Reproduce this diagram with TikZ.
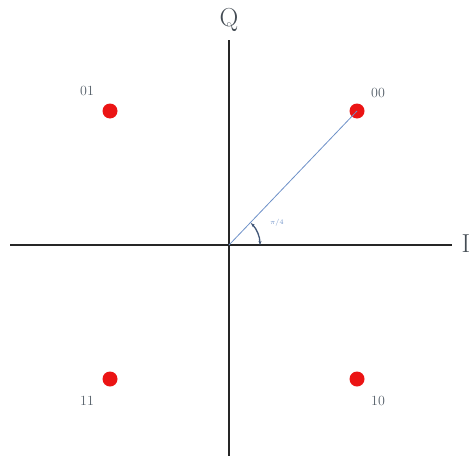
\documentclass[tikz,border=0pt]{standalone}
\usetikzlibrary{arrows.meta}
\definecolor{lbl}{RGB}{85,95,105}
\definecolor{vec}{RGB}{110,145,200}
\definecolor{dotred}{RGB}{235,20,20}
\tikzset{
  axis/.style={line width=2.6pt, black!85},
  pt/.style={circle, fill=dotred, inner sep=0pt, minimum size=15pt},
  bits/.style={text=lbl, font=\fontsize{14}{16}\selectfont, inner sep=0pt},
  axlbl/.style={text=lbl!80!black, font=\fontsize{26}{28}\selectfont, inner sep=0pt}
}
\begin{document}
\begin{tikzpicture}[x=1pt,y=-1pt]
\useasboundingbox (0,0) rectangle (476,463);
\coordinate (O) at (229,245);
\coordinate (L) at (10,245);
\coordinate (R) at (452,245);
\coordinate (T) at (229,40);
\coordinate (B) at (229,456);
\draw[axis] (L) -- (R);
\draw[axis] (T) -- (B);
\node[axlbl] (Q) at (229,20) {Q};
\node[axlbl] (I) at (466,244) {I};
\node[pt] (p00) at (357,111) {};
\node[pt] (p01) at (110,111) {};
\node[pt] (p11) at (110,379) {};
\node[pt] (p10) at (357,379) {};
\node[bits] (l01) at (87,91) {01};
\node[bits] (l00) at (378,93) {00};
\node[bits] (l11) at (87,401) {11};
\node[bits] (l10) at (378,401) {10};
\draw[vec, line width=0.8pt] (O) -- (p00.center);
\draw[vec!60!black, line width=1.3pt, {Stealth[length=4pt]}-{Stealth[length=4pt]}] ([shift={(-45:31)}]O) arc[start angle=-45, end angle=0, radius=31];
\node[text=vec, font=\fontsize{7}{8}\selectfont, inner sep=0pt] (ang) at (277,223) {$\pi/4$};
\end{tikzpicture}
\end{document}
